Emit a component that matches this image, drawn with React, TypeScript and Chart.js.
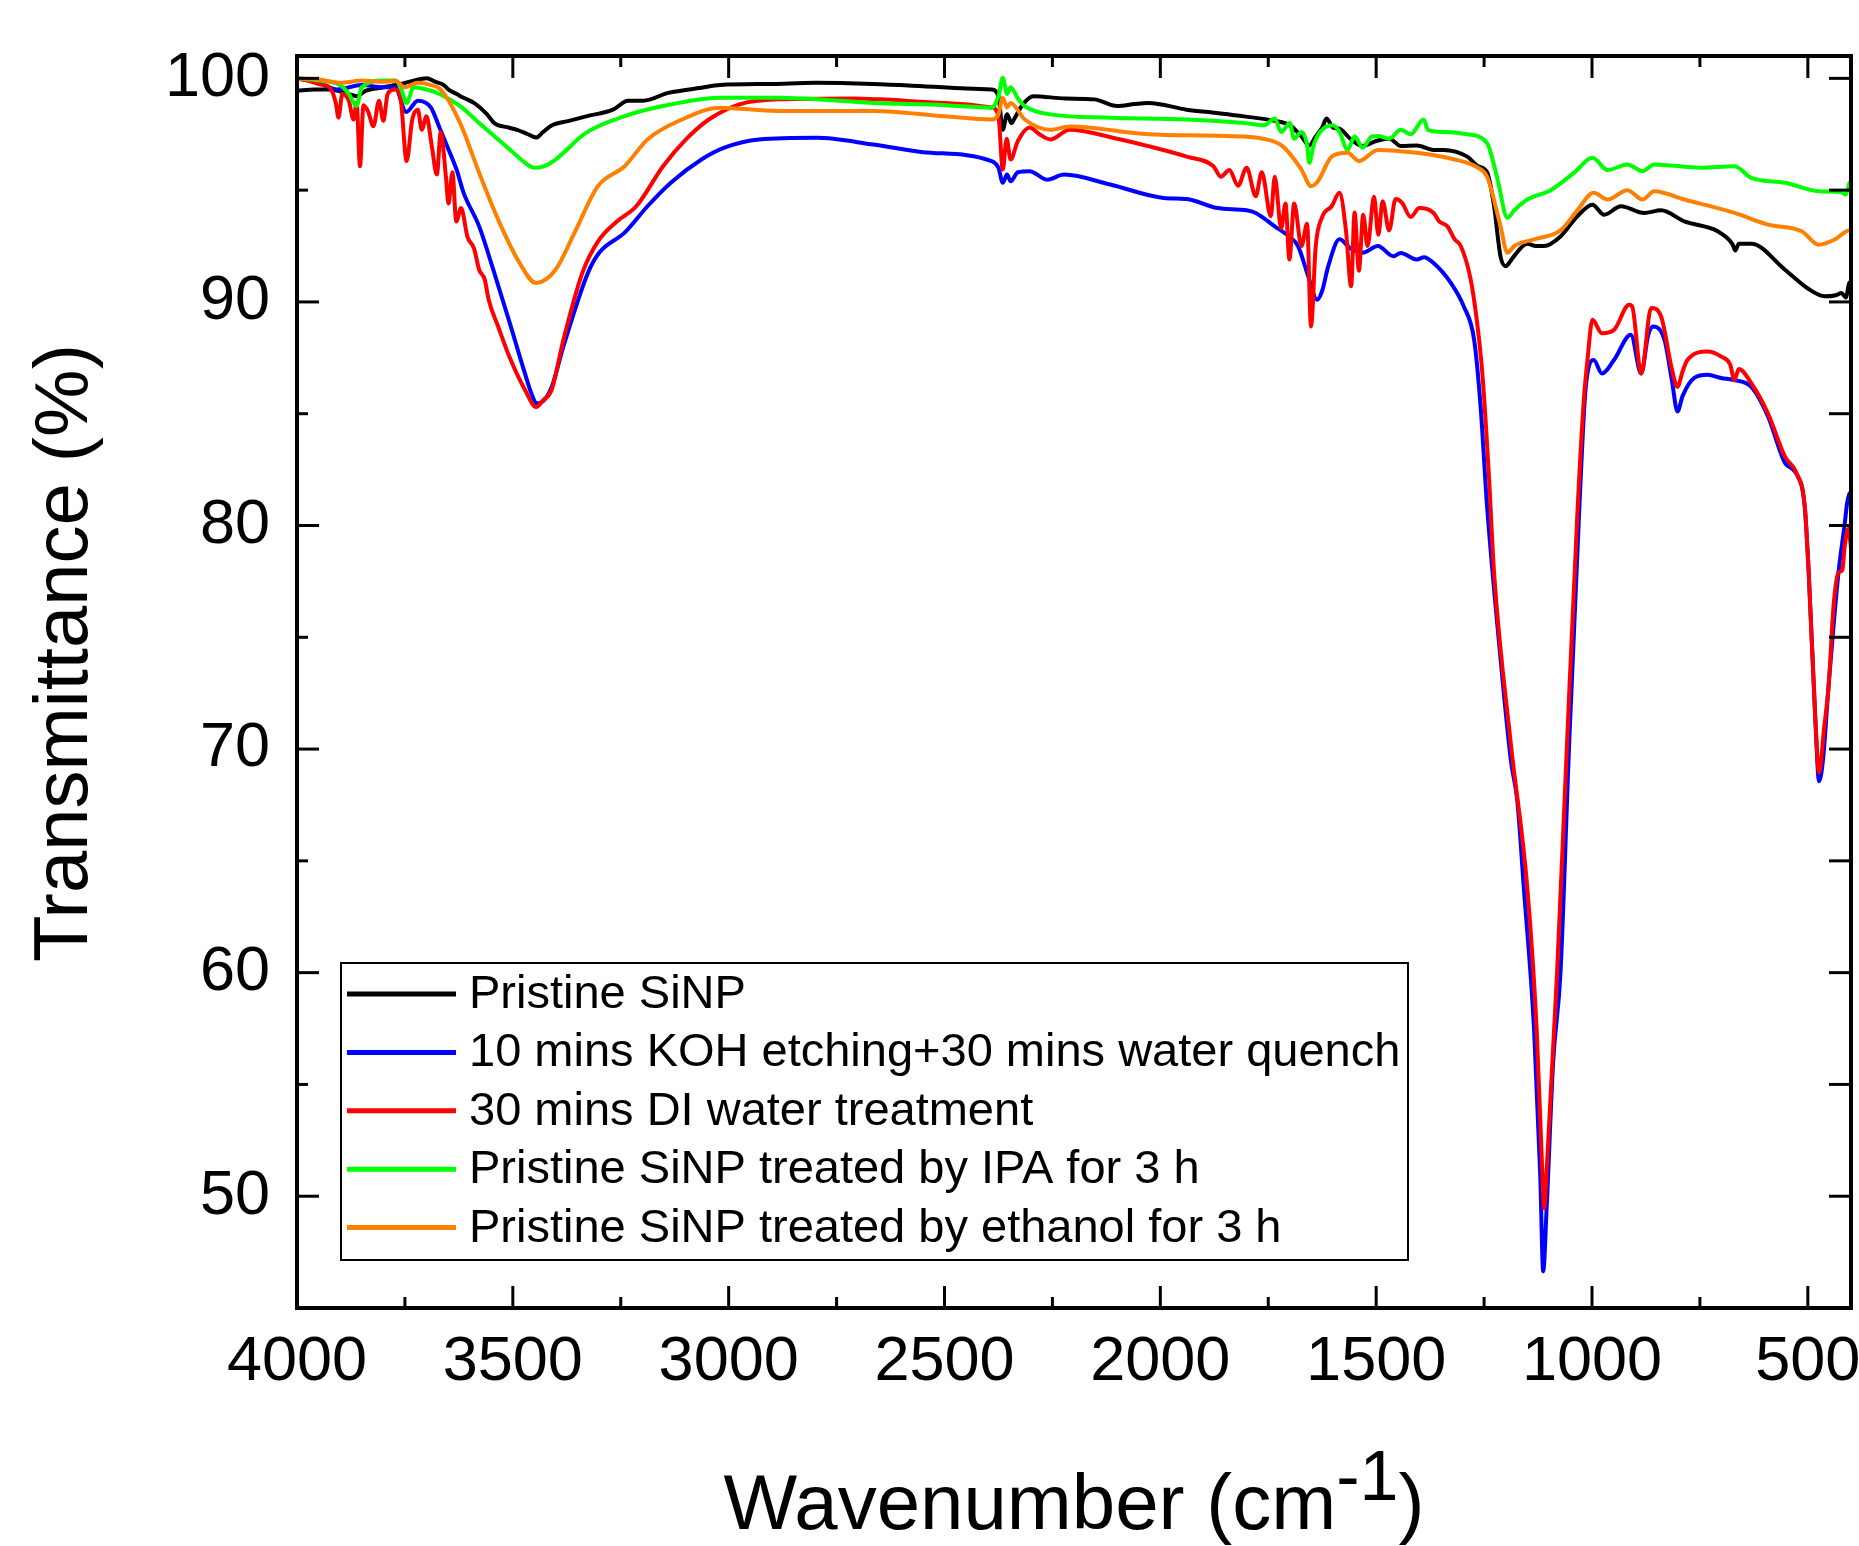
import { useEffect, useRef } from 'react';
import { Chart, registerables } from 'chart.js';

Chart.register(...registerables);

const FONT = "'Liberation Sans', Arial, sans-serif";

// Axis ticks
const X_MAJOR = [4000, 3500, 3000, 2500, 2000, 1500, 1000, 500];
const X_MINOR = [3750, 3250, 2750, 2250, 1750, 1250, 750];
const Y_MAJOR = [50, 60, 70, 80, 90, 100];
const Y_MINOR = [55, 65, 75, 85, 95];

const SERIES_LABELS = [
  'Pristine SiNP',
  '10 mins KOH etching+30 mins water quench',
  '30 mins DI water treatment',
  'Pristine SiNP treated by IPA for 3 h',
  'Pristine SiNP treated by ethanol for 3 h',
];
const SERIES_COLORS = ['#000000', '#0000ff', '#ff0000', '#00ff00', '#ff8000'];

// [wavenumber (cm-1), transmittance (%)]
const pristine: number[][] = [
  [4000, 99.45], [3960, 99.5], [3924, 99.5], [3880, 99.3], [3862, 99.2], [3840, 99.45],
  [3800, 99.6], [3760, 99.75], [3730, 99.9], [3700, 100.0], [3680, 99.85], [3660, 99.7],
  [3649, 99.5], [3630, 99.3], [3614, 99.13], [3590, 98.9], [3560, 98.4], [3543, 98.0],
  [3510, 97.8], [3490, 97.7], [3465, 97.5], [3446, 97.35], [3430, 97.6], [3409, 97.9],
  [3370, 98.1], [3330, 98.3], [3268, 98.6], [3233, 99.0], [3198, 99.0], [3140, 99.35],
  [3063, 99.58], [3020, 99.7], [2900, 99.75], [2800, 99.8], [2665, 99.75], [2550, 99.65],
  [2450, 99.55], [2391, 99.5], [2375, 99.2], [2365, 97.7], [2355, 98.4], [2345, 98.0],
  [2338, 98.2], [2320, 98.8], [2294, 99.2], [2220, 99.1], [2153, 99.06], [2100, 98.76],
  [2060, 98.85], [2028, 98.9], [1939, 98.6], [1870, 98.45], [1806, 98.3], [1735, 98.1],
  [1700, 97.9], [1673, 97.4], [1655, 97.0], [1640, 97.4], [1625, 97.8], [1615, 98.2],
  [1600, 97.8], [1585, 97.75], [1560, 97.3], [1531, 96.97], [1500, 97.2], [1469, 97.3],
  [1443, 96.97], [1406, 97.0], [1367, 96.8], [1344, 96.8], [1289, 96.5], [1264, 96.07],
  [1243, 95.8], [1227, 94.3], [1212, 92.04], [1200, 91.6], [1190, 91.8], [1181, 92.04],
  [1150, 92.6], [1130, 92.5], [1111, 92.5], [1073, 92.93], [1034, 93.83], [999, 94.35],
  [972, 93.9], [933, 94.28], [879, 93.98], [840, 94.1], [786, 93.6], [709, 93.16],
  [675, 92.6], [668, 92.3], [660, 92.6], [631, 92.6], [553, 91.44], [500, 90.6],
  [461, 90.25], [435, 90.3], [422, 90.4], [412, 90.2], [404, 90.85], [400, 90.9],
];

const kohEtched: number[][] = [
  [4000, 100], [3950, 99.8], [3907, 99.5], [3850, 99.7], [3800, 99.6], [3773, 99.6],
  [3747, 98.5], [3720, 99.0], [3690, 98.7], [3670, 97.8], [3649, 96.82], [3630, 95.9],
  [3614, 94.88], [3578, 93.38], [3543, 91.3], [3507, 89.05], [3472, 86.8], [3455, 85.8],
  [3446, 85.47], [3435, 85.5], [3410, 86.2], [3383, 88.0], [3326, 91.3], [3300, 92.2],
  [3241, 93.1], [3188, 94.28], [3134, 95.33], [3063, 96.37], [3010, 96.9], [2930, 97.27],
  [2797, 97.34], [2665, 97.04], [2550, 96.7], [2391, 96.3], [2375, 96.0], [2365, 95.33],
  [2355, 95.7], [2347, 95.4], [2330, 95.8], [2303, 95.85], [2262, 95.47], [2223, 95.7],
  [2116, 95.25], [1992, 94.65], [1939, 94.6], [1868, 94.2], [1800, 94.1], [1779, 93.98],
  [1735, 93.38], [1700, 92.9], [1681, 92.5], [1655, 91.0], [1637, 90.1], [1625, 90.5],
  [1611, 91.6], [1585, 92.8], [1560, 92.4], [1531, 92.2], [1496, 92.5], [1460, 92.04],
  [1443, 92.19], [1406, 91.9], [1389, 92.0], [1367, 91.74], [1327, 90.85], [1297, 89.8],
  [1273, 88.3], [1258, 85.3], [1243, 80.84], [1212, 74.07], [1188, 69.5], [1173, 67.67],
  [1158, 63.8], [1134, 57.4], [1120, 51.0], [1113, 46.64], [1105, 49.5], [1090, 56.0],
  [1073, 60.0], [1053, 70.2], [1030, 80.5], [1015, 86.07], [996, 87.4], [977, 86.8],
  [949, 87.4], [910, 88.53], [886, 86.8], [870, 88.5], [859, 88.9], [832, 88.3],
  [815, 86.5], [802, 85.1], [790, 85.8], [763, 86.6], [732, 86.74], [701, 86.6],
  [670, 86.5], [631, 86.2], [592, 84.87], [553, 82.8], [526, 82.3], [507, 80.8],
  [498, 77.9], [483, 71.5], [474, 68.56], [465, 69.5], [452, 72.8], [429, 77.9],
  [415, 80.0], [409, 81.0], [404, 81.4], [400, 81.5],
];

const diWater: number[][] = [
  [4000, 100], [3965, 99.85], [3947, 99.73], [3925, 99.6], [3910, 98.9], [3904, 98.24],
  [3895, 99.3], [3880, 99.0], [3869, 98.16], [3862, 98.9], [3854, 96.07], [3846, 98.8],
  [3835, 98.5], [3823, 97.86], [3810, 99.0], [3800, 98.1], [3790, 99.3], [3773, 99.5],
  [3760, 99.1], [3746, 96.3], [3733, 98.16], [3720, 98.6], [3711, 97.7], [3700, 98.3],
  [3688, 97.0], [3676, 95.7], [3667, 97.6], [3655, 95.6], [3649, 94.4], [3640, 95.8],
  [3631, 93.6], [3620, 94.2], [3605, 92.9], [3590, 92.4], [3578, 91.44], [3565, 91.0],
  [3556, 90.1], [3534, 88.9], [3507, 87.5], [3472, 86.07], [3446, 85.3], [3430, 85.6],
  [3410, 86.07], [3383, 88.3], [3339, 91.3], [3303, 92.7], [3259, 93.6], [3214, 94.28],
  [3152, 96.07], [3099, 97.27], [3046, 98.16], [2975, 98.84], [2886, 99.06], [2709, 99.1],
  [2649, 99.06], [2500, 98.9], [2391, 98.7], [2375, 98.3], [2365, 95.92], [2356, 97.3],
  [2347, 96.37], [2330, 97.2], [2303, 97.8], [2280, 97.5], [2255, 97.27], [2210, 97.7],
  [2100, 97.3], [2028, 96.97], [1939, 96.5], [1877, 96.07], [1860, 95.6], [1840, 95.9],
  [1820, 95.2], [1800, 96.0], [1779, 94.73], [1765, 95.8], [1744, 93.83], [1735, 95.6],
  [1720, 93.3], [1710, 94.4], [1701, 91.9], [1690, 94.4], [1673, 92.5], [1660, 93.5],
  [1651, 88.9], [1640, 92.5], [1625, 93.8], [1603, 94.28], [1585, 94.88], [1570, 93.2],
  [1558, 90.7], [1550, 94.0], [1540, 91.4], [1530, 93.9], [1520, 92.5], [1505, 94.7],
  [1495, 93.0], [1485, 94.5], [1470, 93.2], [1455, 94.6], [1440, 94.43], [1420, 93.8],
  [1400, 94.2], [1367, 93.98], [1354, 93.6], [1335, 93.38], [1318, 92.8], [1304, 92.5],
  [1281, 91.0], [1266, 89.05], [1254, 86.8], [1239, 82.3], [1227, 77.93], [1188, 70.23],
  [1150, 63.82], [1128, 57.4], [1116, 51.5], [1111, 49.46], [1104, 51.5], [1081, 59.97],
  [1058, 70.2], [1034, 80.5], [1019, 85.6], [1010, 87.5], [999, 89.2], [977, 88.6],
  [949, 88.75], [914, 89.87], [907, 89.8], [886, 86.8], [863, 89.73], [840, 89.35],
  [815, 87.0], [802, 86.2], [790, 86.9], [779, 87.4], [732, 87.78], [701, 87.56],
  [680, 87.2], [670, 86.5], [660, 87.0], [631, 86.37], [592, 85.0], [553, 83.08],
  [526, 82.33], [507, 80.84], [498, 77.9], [483, 71.5], [474, 68.95], [462, 71.0],
  [452, 72.8], [440, 76.5], [429, 77.9], [420, 78.0], [415, 79.0], [406, 79.85],
  [400, 79.0],
];

const ipaTreated: number[][] = [
  [4000, 100], [3950, 99.9], [3900, 99.7], [3880, 99.3], [3862, 98.76], [3850, 99.6],
  [3800, 99.9], [3773, 99.9], [3760, 99.6], [3746, 98.9], [3730, 99.6], [3700, 99.5],
  [3670, 99.3], [3622, 98.76], [3578, 98.0], [3507, 96.82], [3470, 96.2], [3450, 96.0],
  [3430, 96.05], [3401, 96.37], [3330, 97.57], [3241, 98.31], [3152, 98.76], [3020, 99.13],
  [2886, 99.13], [2665, 98.9], [2500, 98.8], [2391, 98.69], [2375, 99.2], [2365, 100.03],
  [2355, 99.3], [2347, 99.6], [2330, 99.1], [2314, 98.76], [2255, 98.39], [2116, 98.24],
  [1939, 98.16], [1806, 98.0], [1760, 97.9], [1735, 98.2], [1720, 97.6], [1700, 98.0],
  [1690, 97.3], [1673, 97.6], [1660, 97.0], [1655, 96.22], [1645, 97.0], [1630, 97.6],
  [1600, 97.9], [1585, 97.6], [1566, 96.8], [1550, 97.4], [1531, 96.9], [1510, 97.4],
  [1496, 97.42], [1470, 97.3], [1443, 97.7], [1420, 97.5], [1390, 98.16], [1380, 97.7],
  [1340, 97.6], [1289, 97.5], [1243, 97.1], [1219, 95.5], [1196, 93.76], [1180, 94.1],
  [1150, 94.58], [1096, 95.0], [1042, 95.77], [999, 96.45], [964, 95.9], [918, 96.15],
  [883, 95.85], [856, 96.15], [748, 96.0], [670, 96.07], [631, 95.55], [553, 95.33],
  [475, 94.95], [422, 94.9], [412, 94.8], [404, 95.3], [400, 95.4],
];

const ethanolTreated: number[][] = [
  [4000, 100], [3950, 99.95], [3900, 99.8], [3850, 99.9], [3800, 99.85], [3773, 99.9],
  [3750, 99.6], [3720, 99.8], [3690, 99.7], [3667, 99.5], [3622, 98.0], [3578, 95.77],
  [3534, 93.68], [3489, 91.9], [3446, 90.85], [3401, 91.44], [3357, 93.1], [3303, 95.18],
  [3241, 96.07], [3188, 97.27], [3108, 98.16], [3020, 98.69], [2886, 98.54], [2665, 98.54],
  [2500, 98.3], [2391, 98.16], [2375, 98.4], [2365, 99.13], [2355, 98.7], [2347, 98.9],
  [2314, 98.16], [2255, 97.7], [2210, 97.85], [2028, 97.5], [1851, 97.42], [1762, 97.3],
  [1717, 96.97], [1673, 95.92], [1651, 95.18], [1635, 95.4], [1603, 96.5], [1566, 96.67],
  [1540, 96.3], [1496, 96.8], [1406, 96.67], [1318, 96.37], [1264, 96.0], [1243, 95.6],
  [1212, 93.4], [1196, 92.2], [1180, 92.5], [1134, 92.8], [1073, 93.2], [1034, 94.1],
  [996, 94.88], [964, 94.58], [918, 95.0], [883, 94.58], [856, 94.95], [786, 94.58],
  [670, 93.98], [592, 93.46], [514, 93.16], [475, 92.56], [437, 92.8], [404, 93.2],
  [400, 93.2],
];

const SERIES = [pristine, kohEtched, diWater, ipaTreated, ethanolTreated];
const DRAW_ORDER = [5, 4, 3, 2, 1];

const decorPlugin = {
  id: 'decor',
  afterDraw(chart: any) {
    const { ctx, chartArea, scales } = chart;
    const { left, right, top, bottom } = chartArea;
    const xs = scales.x;
    const ys = scales.y;
    const seg = (x1: number, y1: number, x2: number, y2: number) => {
      ctx.beginPath();
      ctx.moveTo(x1, y1);
      ctx.lineTo(x2, y2);
      ctx.stroke();
    };
    ctx.save();
    ctx.strokeStyle = '#000';
    ctx.fillStyle = '#000';
    ctx.lineCap = 'butt';
    ctx.lineWidth = 3;
    X_MAJOR.forEach((v) => {
      const p = xs.getPixelForValue(v);
      seg(p, bottom, p, bottom - 22);
      seg(p, top, p, top + 22);
    });
    X_MINOR.forEach((v) => {
      const p = xs.getPixelForValue(v);
      seg(p, bottom, p, bottom - 11);
      seg(p, top, p, top + 11);
    });
    Y_MAJOR.forEach((v) => {
      const p = ys.getPixelForValue(v);
      seg(left, p, left + 22, p);
      seg(right, p, right - 22, p);
    });
    Y_MINOR.forEach((v) => {
      const p = ys.getPixelForValue(v);
      seg(left, p, left + 11, p);
      seg(right, p, right - 22, p);
    });
    ctx.lineWidth = 4;
    ctx.strokeRect(left, top, right - left, bottom - top);

    // Legend
    const lgLeft = 341, lgTop = 963, lgRight = 1408, lgBottom = 1260;
    ctx.fillStyle = '#fff';
    ctx.fillRect(lgLeft, lgTop, lgRight - lgLeft, lgBottom - lgTop);
    ctx.lineWidth = 2;
    ctx.strokeStyle = '#000';
    ctx.strokeRect(lgLeft, lgTop, lgRight - lgLeft, lgBottom - lgTop);
    ctx.font = `47px ${FONT}`;
    ctx.textBaseline = 'middle';
    ctx.textAlign = 'left';
    chart.data.datasets.forEach((ds: any, i: number) => {
      const yRow = 994 + i * 58.4;
      ctx.strokeStyle = ds.borderColor;
      ctx.lineWidth = 5;
      seg(347, yRow, 456, yRow);
      ctx.fillStyle = '#000';
      ctx.fillText(ds.label, 469, yRow + 1);
    });

    // Y axis title
    ctx.save();
    ctx.translate(87, 653);
    ctx.rotate(-Math.PI / 2);
    ctx.font = `76px ${FONT}`;
    ctx.textAlign = 'center';
    ctx.textBaseline = 'alphabetic';
    ctx.fillStyle = '#000';
    ctx.fillText('Transmittance (%)', 0, 0);
    ctx.restore();

    // X axis title with superscript
    const mainFont = `78px ${FONT}`;
    const supFont = `70px ${FONT}`;
    ctx.font = mainFont;
    const w1 = ctx.measureText('Wavenumber (cm').width;
    const w3 = ctx.measureText(')').width;
    ctx.font = supFont;
    const w2 = ctx.measureText('-1').width;
    const total = w1 + w2 + w3;
    const cx = (left + right) / 2;
    let xPos = cx - total / 2;
    const base = 1529;
    ctx.textAlign = 'left';
    ctx.textBaseline = 'alphabetic';
    ctx.fillStyle = '#000';
    ctx.font = mainFont;
    ctx.fillText('Wavenumber (cm', xPos, base);
    xPos += w1;
    ctx.font = supFont;
    ctx.fillText('-1', xPos, base - 29);
    xPos += w2;
    ctx.font = mainFont;
    ctx.fillText(')', xPos, base);
    ctx.restore();
  },
};

export default function App() {
  const ref = useRef<HTMLCanvasElement>(null);
  useEffect(() => {
    const canvas = ref.current;
    if (!canvas) return;
    const chart = new Chart(canvas, {
      type: 'scatter',
      data: {
        datasets: SERIES.map((s, i) => ({
          label: SERIES_LABELS[i],
          data: s.map(([x, y]) => ({ x, y })),
          borderColor: SERIES_COLORS[i],
          backgroundColor: SERIES_COLORS[i],
          borderWidth: 4,
          pointRadius: 0,
          showLine: true,
          fill: false,
          cubicInterpolationMode: 'monotone',
          borderJoinStyle: 'round',
          order: DRAW_ORDER[i],
        })),
      },
      options: {
        animation: false,
        responsive: false,
        devicePixelRatio: 1,
        layout: { padding: { top: 56, right: 8, left: 0, bottom: 0 }, autoPadding: false },
        plugins: { legend: { display: false }, tooltip: { enabled: false }, title: { display: false } },
        scales: {
          x: {
            type: 'linear',
            min: 400,
            max: 4000,
            reverse: true,
            grid: { display: false, drawTicks: false },
            border: { display: false },
            ticks: {
              autoSkip: false,
              maxRotation: 0,
              padding: 17,
              color: '#000',
              font: { family: FONT, size: 63, lineHeight: 1.2 },
              callback: (v: any) => String(v),
            },
            afterBuildTicks: (scale: any) => {
              scale.ticks = X_MAJOR.map((value) => ({ value }));
            },
            afterFit: (scale: any) => {
              scale.height = 238;
              scale.paddingLeft = 0;
              scale.paddingRight = 0;
            },
          },
          y: {
            type: 'linear',
            min: 45,
            max: 101,
            grid: { display: false, drawTicks: false },
            border: { display: false },
            ticks: {
              autoSkip: false,
              padding: 27,
              color: '#000',
              font: { family: FONT, size: 63, lineHeight: 1.2 },
              callback: (v: any) => String(v),
            },
            afterBuildTicks: (scale: any) => {
              scale.ticks = Y_MAJOR.map((value) => ({ value }));
            },
            afterFit: (scale: any) => {
              scale.width = 297;
              scale.paddingTop = 0;
              scale.paddingBottom = 0;
            },
          },
        },
      },
      plugins: [decorPlugin],
    } as any);
    return () => chart.destroy();
  }, []);
  return (
    <div style={{ position: 'absolute', left: 0, top: 0, width: 1859, height: 1546, background: '#fff' }}>
      <canvas ref={ref} width={1859} height={1546} style={{ display: 'block', width: 1859, height: 1546 }} />
    </div>
  );
}
